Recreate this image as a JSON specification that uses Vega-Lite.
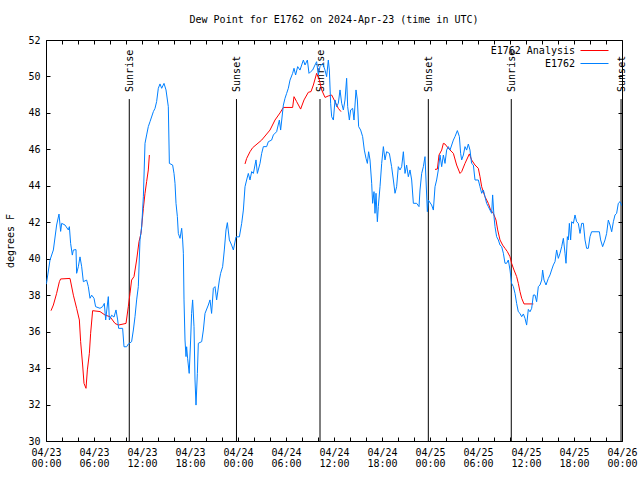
{
  "$schema": "https://vega.github.io/schema/vega-lite/v6.json",
  "width": 576,
  "height": 401,
  "autosize": {"type": "none"},
  "padding": {"left": 46, "top": 40, "right": 18, "bottom": 39},
  "title": {"text": "Dew Point for E1762 on 2024-Apr-23 (time in UTC)", "font": "DejaVu Sans Mono", "fontSize": 10, "fontWeight": "normal", "color": "#000", "offset": 10},
  "config": {
    "font": "DejaVu Sans Mono",
    "view": {"stroke": "#000", "strokeWidth": 1},
    "axis": {"domain": false, "grid": false, "labelFont": "DejaVu Sans Mono", "labelFontSize": 10, "labelColor": "#000", "tickColor": "#000", "tickSize": -4, "titleFont": "DejaVu Sans Mono", "titleFontSize": 10, "titleFontWeight": "normal", "titleColor": "#000"}
  },
  "datasets": {
    "obs": [
      {"h":0.0,"v":38.6},{"h":0.08,"v":38.7},{"h":0.5,"v":39.93},{"h":0.92,"v":40.48},{"h":1.33,"v":41.85},{"h":1.625,"v":42.45},{"h":1.83,"v":41.5},{"h":1.96,"v":41.94},{"h":2.375,"v":41.85},{"h":2.79,"v":41.58},{"h":2.92,"v":41.76},{"h":3.08,"v":40.84},{"h":3.29,"v":40.2},{"h":3.42,"v":40.48},{"h":3.75,"v":40.5},{"h":3.83,"v":39.2},{"h":4.04,"v":39.56},{"h":4.25,"v":40.1},{"h":4.46,"v":39.56},{"h":4.67,"v":38.74},{"h":5.08,"v":38.83},{"h":5.29,"v":38.47},{"h":5.5,"v":37.83},{"h":5.71,"v":38.0},{"h":6.0,"v":37.83},{"h":6.2,"v":37.37},{"h":6.75,"v":37.28},{"h":7.08,"v":37.37},{"h":7.29,"v":37.55},{"h":7.46,"v":36.64},{"h":7.79,"v":37.92},{"h":7.92,"v":36.64},{"h":8.2,"v":36.9},{"h":8.5,"v":36.8},{"h":8.75,"v":37.19},{"h":8.96,"v":36.64},{"h":9.08,"v":36.18},{"h":9.58,"v":36.18},{"h":9.75,"v":35.17},{"h":10.08,"v":35.17},{"h":10.29,"v":35.32},{"h":10.7,"v":35.45},{"h":10.92,"v":36.09},{"h":11.125,"v":36.82},{"h":11.33,"v":37.74},{"h":11.54,"v":38.47},{"h":11.75,"v":41.03},{"h":11.96,"v":41.76},{"h":12.17,"v":43.4},{"h":12.375,"v":46.33},{"h":12.58,"v":46.79},{"h":12.79,"v":47.25},{"h":13.0,"v":47.52},{"h":13.42,"v":48.07},{"h":13.625,"v":48.25},{"h":13.83,"v":48.62},{"h":14.04,"v":49.35},{"h":14.25,"v":49.59},{"h":14.46,"v":49.35},{"h":14.75,"v":49.62},{"h":15.0,"v":49.26},{"h":15.29,"v":48.34},{"h":15.42,"v":45.23},{"h":15.83,"v":45.14},{"h":16.0,"v":44.68},{"h":16.125,"v":44.14},{"h":16.25,"v":43.04},{"h":16.42,"v":42.31},{"h":16.54,"v":41.39},{"h":16.75,"v":41.12},{"h":16.96,"v":41.67},{"h":17.08,"v":41.03},{"h":17.17,"v":40.3},{"h":17.25,"v":37.74},{"h":17.375,"v":35.54},{"h":17.5,"v":34.63},{"h":17.58,"v":35.17},{"h":17.7,"v":34.54},{"h":17.9,"v":33.71},{"h":18.08,"v":35.54},{"h":18.2,"v":37.0},{"h":18.33,"v":37.74},{"h":18.5,"v":36.27},{"h":18.625,"v":33.35},{"h":18.75,"v":31.97},{"h":18.92,"v":33.71},{"h":19.04,"v":35.36},{"h":19.46,"v":35.45},{"h":19.67,"v":36.09},{"h":19.875,"v":37.0},{"h":20.29,"v":37.46},{"h":20.5,"v":37.74},{"h":20.7,"v":37.0},{"h":20.92,"v":38.38},{"h":21.125,"v":38.47},{"h":21.33,"v":37.74},{"h":21.67,"v":38.83},{"h":21.83,"v":39.2},{"h":22.08,"v":39.56},{"h":22.29,"v":40.48},{"h":22.5,"v":41.58},{"h":22.67,"v":41.98},{"h":22.92,"v":41.03},{"h":23.2,"v":40.75},{"h":23.42,"v":40.48},{"h":23.75,"v":41.2},{"h":24.17,"v":41.2},{"h":24.46,"v":41.94},{"h":24.67,"v":42.67},{"h":24.875,"v":43.95},{"h":25.08,"v":44.32},{"h":25.29,"v":44.68},{"h":25.5,"v":44.32},{"h":25.71,"v":44.78},{"h":25.92,"v":44.68},{"h":26.25,"v":45.42},{"h":26.42,"v":44.68},{"h":26.75,"v":45.23},{"h":26.96,"v":45.78},{"h":27.17,"v":46.15},{"h":27.58,"v":46.15},{"h":27.79,"v":46.42},{"h":28.2,"v":46.51},{"h":28.42,"v":46.79},{"h":28.83,"v":46.97},{"h":29.17,"v":47.61},{"h":29.33,"v":47.06},{"h":29.67,"v":48.43},{"h":29.875,"v":48.8},{"h":30.08,"v":49.07},{"h":30.29,"v":49.35},{"h":30.5,"v":49.8},{"h":30.83,"v":50.17},{"h":31.0,"v":50.45},{"h":31.2,"v":50.08},{"h":31.46,"v":50.54},{"h":31.75,"v":50.35},{"h":31.96,"v":50.63},{"h":32.17,"v":50.9},{"h":32.375,"v":50.63},{"h":32.67,"v":50.9},{"h":32.875,"v":50.17},{"h":33.08,"v":50.26},{"h":33.33,"v":50.35},{"h":33.625,"v":50.63},{"h":33.83,"v":50.81},{"h":34.04,"v":50.08},{"h":34.25,"v":50.54},{"h":34.58,"v":50.72},{"h":34.875,"v":50.35},{"h":35.08,"v":49.99},{"h":35.29,"v":50.9},{"h":35.42,"v":50.35},{"h":35.58,"v":48.53},{"h":35.71,"v":47.79},{"h":35.92,"v":47.61},{"h":36.125,"v":48.71},{"h":36.33,"v":48.34},{"h":36.54,"v":48.53},{"h":36.75,"v":49.26},{"h":36.96,"v":48.53},{"h":37.17,"v":48.16},{"h":37.375,"v":48.71},{"h":37.58,"v":49.9},{"h":37.71,"v":48.34},{"h":37.92,"v":47.61},{"h":38.08,"v":48.16},{"h":38.33,"v":48.25},{"h":38.5,"v":47.61},{"h":38.75,"v":49.26},{"h":38.92,"v":48.71},{"h":39.08,"v":47.25},{"h":39.33,"v":47.06},{"h":39.58,"v":46.7},{"h":39.79,"v":45.96},{"h":40.0,"v":45.51},{"h":40.17,"v":45.23},{"h":40.33,"v":45.87},{"h":40.5,"v":45.42},{"h":40.71,"v":44.14},{"h":40.83,"v":43.04},{"h":41.0,"v":43.68},{"h":41.125,"v":42.49},{"h":41.25,"v":43.59},{"h":41.42,"v":42.03},{"h":41.54,"v":42.86},{"h":41.75,"v":43.95},{"h":41.96,"v":45.23},{"h":42.17,"v":46.15},{"h":42.375,"v":45.42},{"h":42.58,"v":45.87},{"h":42.92,"v":45.78},{"h":43.2,"v":45.05},{"h":43.42,"v":44.32},{"h":43.625,"v":43.59},{"h":43.83,"v":43.95},{"h":44.04,"v":45.05},{"h":44.25,"v":44.87},{"h":44.46,"v":45.05},{"h":44.67,"v":45.87},{"h":44.875,"v":44.68},{"h":45.08,"v":45.14},{"h":45.29,"v":44.5},{"h":45.5,"v":44.87},{"h":45.71,"v":44.32},{"h":45.92,"v":43.04},{"h":46.33,"v":43.04},{"h":46.625,"v":42.86},{"h":46.75,"v":43.77},{"h":46.96,"v":44.68},{"h":47.17,"v":45.05},{"h":47.375,"v":45.6},{"h":47.5,"v":44.32},{"h":47.67,"v":42.58},{"h":47.79,"v":43.22},{"h":48.2,"v":42.95},{"h":48.42,"v":42.67},{"h":48.625,"v":43.95},{"h":48.83,"v":44.32},{"h":49.04,"v":44.87},{"h":49.25,"v":45.69},{"h":49.46,"v":45.05},{"h":49.67,"v":45.69},{"h":49.875,"v":45.23},{"h":50.08,"v":45.96},{"h":50.29,"v":46.15},{"h":50.5,"v":45.96},{"h":50.92,"v":46.51},{"h":51.125,"v":46.7},{"h":51.42,"v":47.03},{"h":51.67,"v":46.7},{"h":51.83,"v":45.78},{"h":51.96,"v":45.42},{"h":52.17,"v":45.69},{"h":52.375,"v":46.15},{"h":52.58,"v":45.96},{"h":52.79,"v":46.29},{"h":53.0,"v":45.96},{"h":53.2,"v":45.23},{"h":53.42,"v":45.14},{"h":53.625,"v":44.32},{"h":54.04,"v":44.32},{"h":54.25,"v":43.95},{"h":54.46,"v":43.59},{"h":54.67,"v":43.77},{"h":54.875,"v":43.4},{"h":55.08,"v":43.04},{"h":55.29,"v":42.86},{"h":55.5,"v":42.67},{"h":55.71,"v":42.49},{"h":55.83,"v":43.5},{"h":56.0,"v":42.31},{"h":56.125,"v":41.76},{"h":56.33,"v":41.21},{"h":56.54,"v":41.03},{"h":56.75,"v":40.75},{"h":56.96,"v":40.66},{"h":57.17,"v":40.3},{"h":57.375,"v":39.75},{"h":57.58,"v":39.75},{"h":57.79,"v":39.93},{"h":58.0,"v":39.38},{"h":58.2,"v":38.65},{"h":58.42,"v":38.47},{"h":58.625,"v":38.1},{"h":58.83,"v":37.55},{"h":59.04,"v":37.09},{"h":59.25,"v":37.0},{"h":59.46,"v":36.82},{"h":59.67,"v":36.97},{"h":59.875,"v":36.73},{"h":60.08,"v":36.36},{"h":60.29,"v":37.22},{"h":60.5,"v":37.09},{"h":60.71,"v":37.28},{"h":60.92,"v":38.01},{"h":61.125,"v":38.01},{"h":61.33,"v":37.64},{"h":61.54,"v":38.47},{"h":61.75,"v":38.56},{"h":61.96,"v":38.83},{"h":62.08,"v":39.38},{"h":62.25,"v":38.83},{"h":62.5,"v":38.56},{"h":62.79,"v":38.92},{"h":63.0,"v":39.11},{"h":63.2,"v":39.38},{"h":63.42,"v":39.66},{"h":63.625,"v":39.84},{"h":63.83,"v":40.48},{"h":64.04,"v":40.02},{"h":64.25,"v":40.3},{"h":64.46,"v":40.66},{"h":64.67,"v":41.12},{"h":64.875,"v":40.3},{"h":65.0,"v":39.75},{"h":65.17,"v":41.21},{"h":65.29,"v":41.03},{"h":65.42,"v":41.94},{"h":65.58,"v":41.03},{"h":65.71,"v":42.03},{"h":65.92,"v":41.94},{"h":66.125,"v":42.4},{"h":66.33,"v":42.03},{"h":66.54,"v":41.94},{"h":66.75,"v":41.39},{"h":66.96,"v":41.94},{"h":67.17,"v":41.94},{"h":67.375,"v":41.03},{"h":67.58,"v":40.57},{"h":67.79,"v":40.57},{"h":68.0,"v":41.21},{"h":68.2,"v":41.48},{"h":69.17,"v":41.48},{"h":69.33,"v":41.03},{"h":69.58,"v":40.66},{"h":69.875,"v":41.03},{"h":70.08,"v":41.39},{"h":70.29,"v":42.12},{"h":70.5,"v":41.85},{"h":70.71,"v":41.48},{"h":70.92,"v":42.03},{"h":71.125,"v":42.4},{"h":71.33,"v":42.49},{"h":71.54,"v":43.04},{"h":71.75,"v":43.13},{"h":72.0,"v":42.9}
    ],
    "ana": [
      {"h":0.625,"v":37.15,"g":1},{"h":0.92,"v":37.46,"g":1},{"h":1.33,"v":38.1,"g":1},{"h":1.67,"v":38.74,"g":1},{"h":1.83,"v":38.89,"g":1},{"h":3.0,"v":38.92,"g":1},{"h":3.42,"v":38.0,"g":1},{"h":3.83,"v":37.28,"g":1},{"h":4.17,"v":36.64,"g":1},{"h":4.33,"v":35.45,"g":1},{"h":4.58,"v":34.17,"g":1},{"h":4.75,"v":33.16,"g":1},{"h":5.0,"v":32.89,"g":1},{"h":5.17,"v":33.9,"g":1},{"h":5.42,"v":34.81,"g":1},{"h":5.58,"v":35.91,"g":1},{"h":5.83,"v":37.15,"g":1},{"h":6.75,"v":37.1,"g":1},{"h":7.375,"v":36.91,"g":1},{"h":8.0,"v":36.82,"g":1},{"h":8.625,"v":36.45,"g":1},{"h":9.04,"v":36.36,"g":1},{"h":10.0,"v":36.45,"g":1},{"h":10.29,"v":37.37,"g":1},{"h":10.5,"v":38.1,"g":1},{"h":10.7,"v":38.83,"g":1},{"h":11.0,"v":39.02,"g":1},{"h":11.33,"v":39.93,"g":1},{"h":11.625,"v":40.94,"g":1},{"h":11.875,"v":41.39,"g":1},{"h":12.17,"v":42.76,"g":1},{"h":12.375,"v":43.59,"g":1},{"h":12.58,"v":44.23,"g":1},{"h":12.79,"v":44.87,"g":1},{"h":12.92,"v":45.69,"g":1},
      {"h":24.875,"v":45.2,"g":2},{"h":25.08,"v":45.5,"g":2},{"h":25.5,"v":45.87,"g":2},{"h":25.83,"v":46.09,"g":2},{"h":26.96,"v":46.51,"g":2},{"h":28.0,"v":47.06,"g":2},{"h":28.625,"v":47.61,"g":2},{"h":29.25,"v":48.0,"g":2},{"h":29.67,"v":48.3,"g":2},{"h":30.83,"v":48.3,"g":2},{"h":31.0,"v":48.89,"g":2},{"h":31.33,"v":48.62,"g":2},{"h":31.83,"v":48.21,"g":2},{"h":32.25,"v":48.71,"g":2},{"h":32.79,"v":49.13,"g":2},{"h":33.125,"v":49.17,"g":2},{"h":33.42,"v":49.53,"g":2},{"h":33.83,"v":50.17,"g":2},{"h":34.17,"v":49.8,"g":2},{"h":34.46,"v":49.26,"g":2},{"h":34.875,"v":48.85,"g":2},{"h":35.29,"v":48.93,"g":2},{"h":35.71,"v":48.98,"g":2},{"h":36.125,"v":48.62,"g":2},{"h":36.33,"v":48.43,"g":2},{"h":36.54,"v":48.25,"g":2},{"h":36.875,"v":48.07,"g":2},
      {"h":48.625,"v":44.9,"g":3},{"h":48.92,"v":44.92,"g":3},{"h":49.125,"v":45.69,"g":3},{"h":49.46,"v":45.96,"g":3},{"h":49.67,"v":46.33,"g":3},{"h":49.875,"v":46.29,"g":3},{"h":50.29,"v":46.06,"g":3},{"h":50.92,"v":45.78,"g":3},{"h":51.33,"v":45.14,"g":3},{"h":51.75,"v":44.68,"g":3},{"h":51.96,"v":44.78,"g":3},{"h":52.375,"v":45.23,"g":3},{"h":52.92,"v":45.75,"g":3},{"h":53.2,"v":45.42,"g":3},{"h":53.625,"v":45.14,"g":3},{"h":54.04,"v":44.96,"g":3},{"h":54.25,"v":44.5,"g":3},{"h":54.46,"v":43.95,"g":3},{"h":54.875,"v":43.4,"g":3},{"h":55.29,"v":43.04,"g":3},{"h":55.58,"v":42.67,"g":3},{"h":55.92,"v":42.49,"g":3},{"h":56.25,"v":42.12,"g":3},{"h":56.46,"v":41.58,"g":3},{"h":56.75,"v":41.03,"g":3},{"h":57.08,"v":40.75,"g":3},{"h":57.375,"v":40.57,"g":3},{"h":57.67,"v":40.39,"g":3},{"h":58.0,"v":40.11,"g":3},{"h":58.2,"v":39.75,"g":3},{"h":58.5,"v":39.38,"g":3},{"h":58.83,"v":39.02,"g":3},{"h":59.04,"v":38.65,"g":3},{"h":59.25,"v":38.19,"g":3},{"h":59.46,"v":37.83,"g":3},{"h":59.75,"v":37.52,"g":3},{"h":60.92,"v":37.52,"g":3}
    ],
    "sun": [
      {"h":10.41,"ev":"Sunrise"},{"h":23.81,"ev":"Sunset"},{"h":34.25,"ev":"Sunrise"},{"h":47.79,"ev":"Sunset"},{"h":58.16,"ev":"Sunrise"},{"h":71.88,"ev":"Sunset"}
    ]
  },
  "resolve": {"axis": {"x": "independent", "y": "independent"}},
  "layer": [
    {
      "data": {"name": "sun"},
      "mark": {"type": "rule", "color": "#000", "strokeWidth": 1},
      "encoding": {
        "x": {"field": "h", "type": "quantitative", "scale": {"domain": [0, 72], "nice": false, "zero": false},
              "axis": {"orient": "top", "values": [0,2,4,6,8,10,12,14,16,18,20,22,24,26,28,30,32,34,36,38,40,42,44,46,48,50,52,54,56,58,60,62,64,66,68,70,72], "labels": false, "title": null}},
        "y": {"datum": 48.76, "type": "quantitative", "scale": {"domain": [30, 52], "nice": false, "zero": false},
              "axis": {"orient": "right", "values": [30,32,34,36,38,40,42,44,46,48,50,52], "labels": false, "title": null}},
        "y2": {"datum": 30}
      }
    },
    {
      "data": {"name": "sun"},
      "mark": {"type": "text", "angle": 270, "align": "left", "baseline": "middle", "font": "DejaVu Sans Mono", "fontSize": 10, "color": "#000", "dy": 1},
      "encoding": {
        "x": {"field": "h", "type": "quantitative", "axis": null},
        "y": {"datum": 49.15, "type": "quantitative", "axis": null},
        "text": {"field": "ev"}
      }
    },
    {
      "data": {"name": "ana"},
      "mark": {"type": "line", "strokeWidth": 1, "clip": true},
      "encoding": {
        "x": {"field": "h", "type": "quantitative", "axis": null},
        "y": {"field": "v", "type": "quantitative", "axis": null},
        "detail": {"field": "g"},
        "color": {"datum": "E1762 Analysis"}
      }
    },
    {
      "data": {"name": "obs"},
      "mark": {"type": "line", "strokeWidth": 1, "clip": true},
      "encoding": {
        "x": {"field": "h", "type": "quantitative",
              "axis": {"orient": "bottom", "values": [0,2,4,6,8,10,12,14,16,18,20,22,24,26,28,30,32,34,36,38,40,42,44,46,48,50,52,54,56,58,60,62,64,66,68,70,72],
                       "labelExpr": "datum.value % 6 == 0 ? ['04/' + (23 + floor(datum.value / 24)), (datum.value % 24 < 10 ? '0' : '') + (datum.value % 24) + ':00'] : ''",
                       "labelPadding": 10, "labelLineHeight": 11, "labelAlign": "center", "labelBaseline": "top", "title": null, "labelOverlap": false, "labelFlush": false}},
        "y": {"field": "v", "type": "quantitative",
              "axis": {"orient": "left", "values": [30,32,34,36,38,40,42,44,46,48,50,52], "title": "degrees F", "titlePadding": 12, "labelPadding": 10, "labelFlush": false}},
        "color": {"datum": "E1762", "type": "nominal",
                  "scale": {"domain": ["E1762 Analysis", "E1762"], "range": ["#ff0000", "#0080ff"]},
                  "legend": {"title": null, "orient": "none", "legendX": 543, "legendY": 5, "symbolType": "M-2.8,0H2.8", "symbolSize": 100, "symbolStrokeWidth": 1, "labelAlign": "right", "labelOffset": -25, "labelFont": "DejaVu Sans Mono", "labelFontSize": 10, "labelColor": "#000", "rowPadding": 2, "labelLimit": 200}}
      }
    }
  ]
}
